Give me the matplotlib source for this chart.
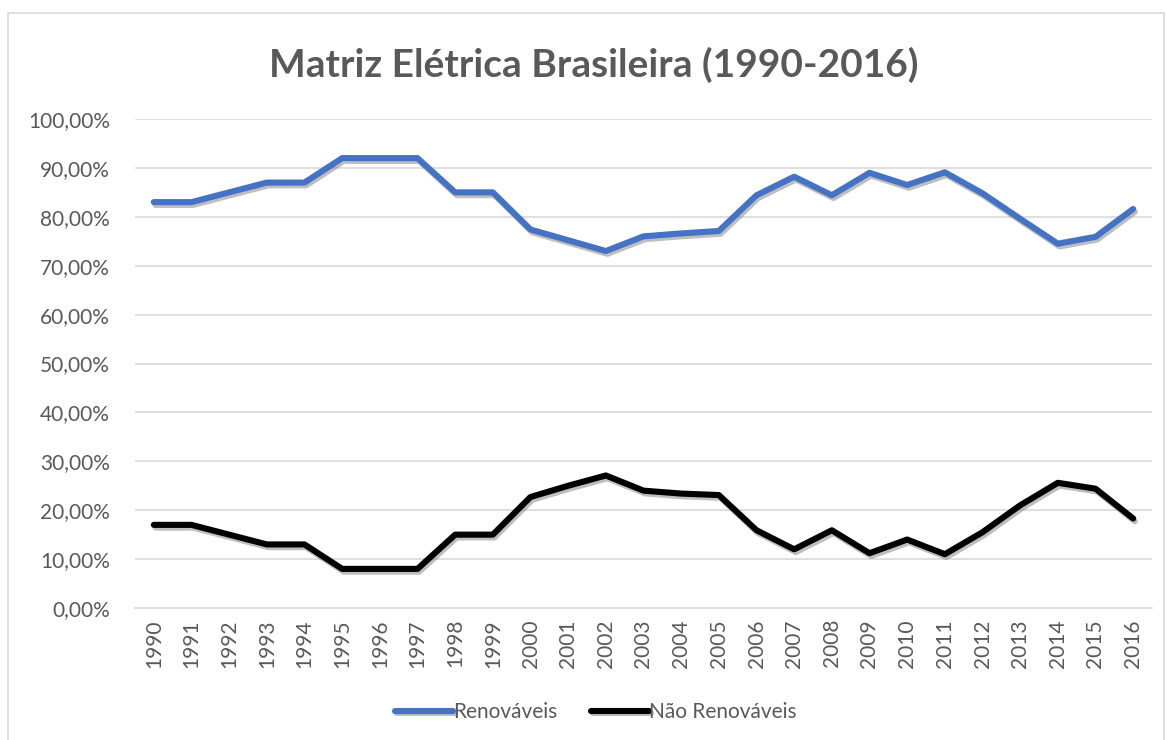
import matplotlib.pyplot as plt
import matplotlib.patheffects as pe
from matplotlib.ticker import FuncFormatter

anos = [str(a) for a in range(1990, 2017)]
renovaveis = [83.0, 83.0, 85.0, 87.0, 87.0, 92.0, 92.0, 92.0, 85.0, 85.0,
              77.4, 75.2, 73.0, 76.0, 76.6, 77.1, 84.4, 88.2, 84.4, 89.0,
              86.5, 89.1, 84.8, 79.6, 74.5, 75.9, 81.6]
nao_renovaveis = [17.0, 17.0, 15.0, 13.0, 13.0, 8.0, 8.0, 8.0, 15.0, 15.0,
                  22.7, 25.0, 27.1, 24.0, 23.4, 23.1, 15.9, 12.0, 15.9, 11.2,
                  14.0, 11.0, 15.5, 21.0, 25.6, 24.4, 18.3]

cinza = '#595959'
plt.rcParams['font.family'] = ['Lato', 'DejaVu Sans']

fig = plt.figure(figsize=(11.67, 7.4), dpi=100)
ax = fig.add_axes([135 / 1167, 1 - 608 / 740, (1152 - 135) / 1167, (608 - 119) / 740])

sombra = [pe.SimpleLineShadow(offset=(1.2, -2.0), shadow_color='#7f7f7f', alpha=0.5),
          pe.Normal()]
x = list(range(len(anos)))
ax.plot(x, renovaveis, color='#4472C4', lw=4.4, solid_capstyle='round',
        solid_joinstyle='round', label='Renováveis', path_effects=sombra)
ax.plot(x, nao_renovaveis, color='#000000', lw=4.4, solid_capstyle='round',
        solid_joinstyle='round', label='Não Renováveis', path_effects=sombra)

ax.set_xlim(-0.5, len(anos) - 0.5)
ax.set_ylim(0, 100)
ax.set_yticks(range(0, 101, 10))
ax.yaxis.set_major_formatter(FuncFormatter(lambda v, p: f'{v:.2f}%'.replace('.', ',')))
ax.set_xticks(x)
ax.set_xticklabels(anos, rotation=90)
ax.tick_params(axis='both', length=0, colors=cinza, labelsize=15)
ax.tick_params(axis='y', pad=18)
ax.tick_params(axis='x', pad=8)
ax.grid(axis='y', color='#d9d9d9', lw=1.2)
ax.set_axisbelow(True)
for s in ['top', 'right', 'left']:
    ax.spines[s].set_visible(False)
ax.spines['bottom'].set_color('#d9d9d9')
ax.spines['bottom'].set_linewidth(1.2)

fig.text(594 / 1167, 1 - 65 / 740, 'Matriz Elétrica Brasileira (1990-2016)',
         ha='center', va='center', fontsize=28, fontweight='bold', color=cinza)

leg = fig.legend(loc='center', bbox_to_anchor=(596 / 1167, 1 - 712 / 740), ncol=2,
                 frameon=False, fontsize=15, handlelength=2.8, handletextpad=0.0,
                 columnspacing=1.6)
for t in leg.get_texts():
    t.set_color(cinza)

borda = plt.Rectangle((8 / 1167, -0.01), (1164 - 8) / 1167, 1 - 13 / 740 + 0.01,
                      transform=fig.transFigure, fill=False, edgecolor='#d9d9d9', lw=1.2)
fig.patches.append(borda)

fig.savefig('out.png', dpi=100)
